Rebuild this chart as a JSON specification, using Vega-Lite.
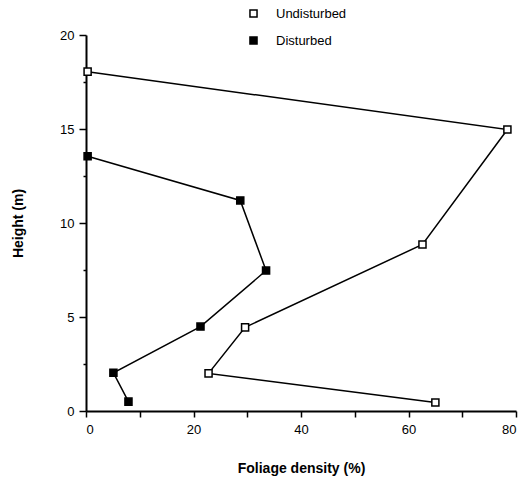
{
  "$schema": "https://vega.github.io/schema/vega-lite/v6.json",
  "width": 430,
  "height": 376,
  "autosize": "none",
  "padding": {"left": 86, "top": 35, "right": 16, "bottom": 67},
  "background": "white",
  "config": {
    "view": {"stroke": null},
    "font": "Liberation Sans",
    "axis": {
      "grid": false,
      "domainColor": "black",
      "domainWidth": 2,
      "tickColor": "black",
      "tickWidth": 1.5,
      "labelColor": "black",
      "labelFont": "Liberation Sans",
      "labelFontSize": 13,
      "titleFont": "Liberation Sans",
      "titleFontSize": 14,
      "titleFontWeight": "bold",
      "titleColor": "black"
    }
  },
  "data": {
    "values": [
      {"series": "Undisturbed", "density": 0.3, "height": 18.05},
      {"series": "Undisturbed", "density": 78.4, "height": 14.97},
      {"series": "Undisturbed", "density": 62.6, "height": 8.86},
      {"series": "Undisturbed", "density": 29.6, "height": 4.45},
      {"series": "Undisturbed", "density": 22.8, "height": 2.0},
      {"series": "Undisturbed", "density": 65.0, "height": 0.45},
      {"series": "Disturbed", "density": 0.3, "height": 13.55},
      {"series": "Disturbed", "density": 28.7, "height": 11.2},
      {"series": "Disturbed", "density": 33.5, "height": 7.47},
      {"series": "Disturbed", "density": 21.3, "height": 4.49},
      {"series": "Disturbed", "density": 5.1, "height": 2.03},
      {"series": "Disturbed", "density": 7.9, "height": 0.5}
    ]
  },
  "encoding": {
    "x": {
      "field": "density",
      "type": "quantitative",
      "scale": {"domain": [0, 80], "nice": false},
      "axis": {
        "title": "Foliage density (%)",
        "values": [0, 10, 20, 30, 40, 50, 60, 70, 80],
        "labelExpr": "datum.value % 20 == 0 ? datum.label : ''",
        "tickSize": 6,
        "labelPadding": 6,
        "titlePadding": 25
      }
    },
    "y": {
      "field": "height",
      "type": "quantitative",
      "scale": {"domain": [0, 20], "nice": false},
      "axis": {
        "title": "Height (m)",
        "values": [0, 2.5, 5, 7.5, 10, 12.5, 15, 17.5, 20],
        "labelExpr": "datum.value % 5 == 0 ? datum.label : ''",
        "tickSize": {"condition": {"test": "datum.value % 5 == 0", "value": 7}, "value": 3},
        "labelPadding": 5,
        "titlePadding": 34
      }
    }
  },
  "layer": [
    {
      "mark": {"type": "line", "color": "black", "strokeWidth": 1.5},
      "encoding": {
        "detail": {"field": "series"},
        "order": {"field": "height", "type": "quantitative"}
      }
    },
    {
      "mark": {"type": "point", "shape": "square", "size": 50, "stroke": "black", "strokeWidth": 1.5, "opacity": 1, "filled": false},
      "encoding": {
        "fill": {
          "field": "series",
          "type": "nominal",
          "scale": {"domain": ["Undisturbed", "Disturbed"], "range": ["white", "black"]},
          "legend": {
            "title": null,
            "orient": "none",
            "legendX": 161,
            "legendY": -28,
            "symbolType": "square",
            "symbolSize": 50,
            "symbolStrokeColor": "black",
            "symbolStrokeWidth": 1.5,
            "labelFontSize": 13,
            "labelColor": "black",
            "labelOffset": 16,
            "rowPadding": 12,
            "padding": 0
          }
        }
      }
    }
  ]
}
